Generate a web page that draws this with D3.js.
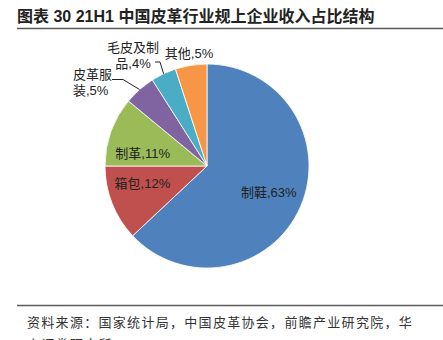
<!DOCTYPE html>
<html>
<head>
<meta charset="utf-8">
<script src="https://cdn.jsdelivr.net/npm/d3@7"></script>
<style>
  html, body { margin: 0; padding: 0; background: #fff; }
  svg { display: block; }
  text { font-family: "Liberation Sans", "Noto Sans CJK SC", sans-serif; fill: #222; }
</style>
</head>
<body>
<svg id="chart" width="443" height="340"></svg>
<script>
var title = '图表 30 21H1 中国皮革行业规上企业收入占比结构';
var sourceLines = ['资料来源：国家统计局，中国皮革协会，前瞻产业研究院，华', '安证券研究所'];

var categories = ['制鞋', '箱包', '制革', '皮革服装', '毛皮及制品', '其他'];
var shares = [63, 12, 11, 5, 4, 5];
var colors = ['#4f81bd', '#c0504d', '#9bbb59', '#8064a2', '#4bacc6', '#f79646'];

var svg = d3.select('#chart');
var cx = 207, cy = 166, radius = 102;

// title + rules
svg.append('text')
  .attr('x', 17).attr('y', 22)
  .style('font-size', '16px').style('font-weight', 'bold')
  .text(title);

svg.append('line')
  .attr('x1', 17).attr('x2', 443).attr('y1', 28.5).attr('y2', 28.5)
  .attr('stroke', '#5a5a5a').attr('stroke-width', 1.5);

svg.append('line')
  .attr('x1', 17).attr('x2', 443).attr('y1', 305.5).attr('y2', 305.5)
  .attr('stroke', '#5a5a5a').attr('stroke-width', 1.5);

svg.selectAll('.source').data(sourceLines).enter().append('text')
  .attr('class', 'source')
  .attr('x', 27)
  .attr('y', function(d, i) { return 327 + i * 22; })
  .style('font-size', '13px').style('letter-spacing', '1.3px').style('fill', '#333')
  .text(function(d) { return d; });

// pie
var pie = d3.pie().sort(null).value(function(d) { return d.value; });
var arc = d3.arc().innerRadius(0).outerRadius(radius);
var slices = pie(categories.map(function(c, i) { return {name: c, value: shares[i], color: colors[i]}; }));

var g = svg.append('g').attr('transform', 'translate(' + cx + ',' + cy + ')');

g.selectAll('path').data(slices).enter().append('path')
  .attr('d', arc)
  .attr('fill', function(d) { return d.data.color; })
  .attr('stroke', '#fff').attr('stroke-width', 0.8);

// inner labels for the big slices, nudged like excel's best fit
var labelArc = d3.arc().innerRadius(radius * 0.66).outerRadius(radius * 0.66);
var nudge = {'箱包': [-2, -7], '制革': [-1, 10], '制鞋': [0, 0]};

g.selectAll('.inner').data(slices.filter(function(d) { return nudge[d.data.name]; }))
  .enter().append('text')
  .attr('class', 'inner')
  .attr('transform', function(d) {
    var c = labelArc.centroid(d), n = nudge[d.data.name];
    return 'translate(' + (c[0] + n[0]) + ',' + (c[1] + n[1]) + ')';
  })
  .attr('text-anchor', 'middle').attr('dy', '0.35em')
  .style('font-size', '13px')
  .text(function(d) { return d.data.name + ',' + d.data.value + '%'; });

// outside labels (wrapped) for the small slices
var outside = {
  '皮革服装': {lines: ['皮革服', '装,'], x: -134, y: -87, anchor: 'start', leader: [-95, -86.5, -84, -86.5]},
  '毛皮及制品': {lines: ['毛皮及制', '品,'], x: -74, y: -114, anchor: 'middle', leader: [-52, -104, -47, -104]},
  '其他': {lines: ['其他,'], x: -18, y: -108, anchor: 'middle'}
};

slices.forEach(function(d) {
  var o = outside[d.data.name];
  if (!o) return;
  var t = g.append('text')
    .attr('text-anchor', o.anchor)
    .style('font-size', '13px');
  o.lines.forEach(function(line, i) {
    t.append('tspan')
      .attr('x', o.x).attr('y', o.y + i * 16)
      .text(i === o.lines.length - 1 ? line + d.data.value + '%' : line);
  });
  if (o.leader) {
    var edge = d3.arc().innerRadius(radius).outerRadius(radius).centroid(d);
    g.append('polyline')
      .attr('points', [[o.leader[0], o.leader[1]], [o.leader[2], o.leader[3]], edge].join(' '))
      .attr('fill', 'none').attr('stroke', '#222').attr('stroke-width', 1);
  }
});
</script>
</body>
</html>
